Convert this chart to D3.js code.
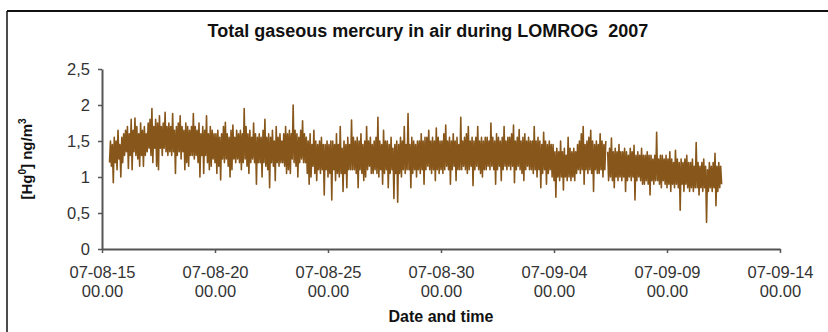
<!DOCTYPE html>
<html><head><meta charset="utf-8">
<script src="https://cdn.jsdelivr.net/npm/d3@7"></script>
<style>
body{margin:0;background:#fff}
svg{display:block}
text{font-family:"Liberation Sans",Arial,Helvetica,sans-serif}
</style>
</head><body>
<svg id="chart" width="828" height="332"></svg>
<script>
// ---- data ----
const chartTitle = "Total gaseous mercury in air during LOMROG  2007";
const xTitle = "Date and time";
const yTicks = [0, 0.5, 1, 1.5, 2, 2.5];
const yTickLabels = ["0", "0,5", "1", "1,5", "2", "2,5"];
const xTickDates = ["2007-08-15T00:00", "2007-08-20T00:00", "2007-08-25T00:00", "2007-08-30T00:00", "2007-09-04T00:00", "2007-09-09T00:00", "2007-09-14T00:00"];
const xTickDateLabels = ["07-08-15", "07-08-20", "07-08-25", "07-08-30", "07-09-04", "07-09-09", "07-09-14"];
const xTickTimeLabels = ["00.00", "00.00", "00.00", "00.00", "00.00", "00.00", "00.00"];
const seriesStart = "2007-08-15T08:00";  // first sample
const stepHours = 1;                       // sampling step of the series below
// Total gaseous mercury, ng/m3 (hourly, one row per day, null = gap)
const tgm = [
  1.2,1.5,1.15,1.45,0.92,1.55,1.2,1.5,1.1,1.65,1.25,1.45,1.0,1.55,1.2,1.6,
  1.3,1.65,1.35,1.7,1.12,1.6,1.3,1.8,1.1,1.65,1.35,1.82,1.3,1.7,1.25,1.6,1.15,1.75,1.3,1.65,1.15,1.7,1.3,1.6,
  1.35,1.75,1.4,1.8,1.3,1.95,1.2,1.7,1.4,1.8,1.15,1.75,1.1,1.85,1.4,1.7,1.3,1.75,1.4,1.9,1.35,1.7,1.3,1.75,
  1.35,1.7,1.3,1.88,1.35,1.65,1.05,1.7,1.3,1.75,1.35,1.85,1.25,1.7,1.35,1.65,1.1,1.75,1.2,1.7,1.15,1.65,1.3,1.7,
  1.3,1.88,1.25,1.7,1.3,1.65,1.2,1.75,1.0,1.6,1.3,1.7,1.05,1.65,1.3,1.85,1.2,1.6,1.1,1.7,1.15,1.65,1.25,1.6,
  1.2,1.6,1.05,1.65,1.15,1.55,0.96,1.6,1.25,1.7,1.2,1.76,1.25,1.6,1.15,1.55,1.0,1.65,1.1,1.72,1.25,1.55,1.2,1.65,
  1.25,1.6,1.2,1.65,1.1,1.6,1.2,1.95,1.25,1.7,1.15,1.6,1.05,1.65,1.2,1.55,1.25,1.75,1.2,1.6,0.9,1.55,1.2,1.6,
  1.2,1.55,1.0,1.65,1.2,1.8,1.15,1.55,1.1,1.6,0.85,1.55,1.2,1.65,1.15,1.5,0.95,1.7,1.2,1.55,1.15,1.6,1.2,1.5,
  1.2,1.6,1.15,1.7,1.05,1.6,1.1,1.65,1.05,1.6,1.25,2.0,1.2,1.65,1.15,1.6,1.0,1.55,1.2,1.65,1.25,1.78,1.2,1.6,
  1.2,1.55,1.05,1.5,0.9,1.6,1.0,1.45,1.15,1.65,1.05,1.5,0.95,1.45,1.1,1.5,1.05,1.55,1.1,1.45,0.75,1.45,1.1,1.5,
  1.0,1.45,1.05,1.5,0.68,1.5,1.1,1.45,0.95,1.6,1.05,1.45,1.0,1.7,1.05,1.4,0.8,1.5,1.05,1.45,0.85,1.55,1.1,1.45,
  1.1,1.79,1.1,1.55,1.1,1.5,1.05,1.55,0.85,1.5,1.1,1.6,1.05,1.45,0.95,1.5,1.0,1.7,1.1,1.5,1.15,1.55,1.05,1.45,
  1.05,1.5,1.1,1.55,1.05,1.83,1.0,1.5,1.1,1.45,0.9,1.65,1.05,1.5,1.1,1.5,0.85,1.45,1.05,1.55,1.1,1.4,0.7,1.45,
  1.05,1.5,0.65,1.45,1.05,1.55,1.0,1.5,1.1,1.7,1.05,1.45,1.1,1.88,1.1,1.45,0.85,1.55,1.05,1.5,1.1,1.45,1.0,1.5,
  1.1,1.5,1.05,1.6,1.1,1.5,0.9,1.55,1.1,1.55,1.15,1.65,1.1,1.5,1.05,1.55,1.1,1.5,0.95,1.68,1.1,1.55,1.05,1.5,
  1.1,1.5,1.05,1.6,1.1,1.72,1.15,1.5,1.1,1.55,0.9,1.5,1.1,1.6,1.15,1.5,0.95,1.55,1.1,1.45,1.1,1.83,1.1,1.5,
  1.15,1.55,1.1,1.6,1.05,1.7,1.1,1.5,1.15,1.55,0.88,1.5,1.1,1.55,1.15,1.7,1.1,1.5,1.05,1.55,1.0,1.5,1.1,1.55,
  1.1,1.55,1.15,1.5,1.1,1.75,1.15,1.55,1.1,1.5,0.9,1.6,1.1,1.55,1.15,1.5,0.95,1.55,1.1,1.7,1.15,1.5,1.1,1.55,
  1.15,1.55,1.1,1.6,1.15,1.72,0.92,1.5,1.1,1.55,1.15,1.66,1.1,1.5,1.05,1.55,0.95,1.6,1.1,1.5,1.15,1.55,1.1,1.5,
  1.1,1.5,1.05,1.7,1.1,1.5,1.0,1.55,1.1,1.5,0.85,1.45,1.05,1.62,1.1,1.5,0.9,1.45,1.05,1.5,1.1,1.45,1.0,1.45,
  0.95,1.35,0.72,1.4,1.0,1.35,0.95,1.5,1.0,1.35,0.82,1.4,1.0,1.3,0.95,1.55,1.0,1.4,0.95,1.35,1.0,1.4,0.95,1.35,
  1.05,1.45,1.1,1.5,1.05,1.6,1.1,1.7,0.9,1.45,1.1,1.5,1.05,1.55,1.1,1.65,1.05,1.5,0.8,1.45,1.1,1.5,1.05,1.45,
  1.05,1.6,1.1,1.5,1.0,1.45,1.1,1.5,null,1.35,0.95,1.4,1.0,1.54,0.95,1.35,0.85,1.4,1.0,1.35,0.95,1.45,1.0,1.35,
  0.95,1.35,1.0,1.4,0.8,1.35,0.95,1.3,1.0,1.4,0.95,1.35,1.0,1.44,0.68,1.3,0.95,1.35,1.0,1.3,0.95,1.4,0.9,1.3,
  0.9,1.3,0.95,1.35,0.9,1.3,0.75,1.3,0.95,1.25,0.9,1.3,0.95,1.62,0.95,1.25,0.9,1.3,0.85,1.3,0.95,1.25,0.9,1.3,
  0.85,1.25,0.9,1.35,0.8,1.25,0.9,1.2,0.85,1.37,0.9,1.25,0.85,1.2,0.54,1.25,0.9,1.2,0.8,1.25,0.9,1.3,0.85,1.2,
  0.8,1.2,0.85,1.25,0.8,1.15,0.85,1.48,0.85,1.2,0.75,1.15,0.85,1.2,0.8,1.25,0.85,1.15,0.37,1.1,0.8,1.2,0.85,1.15,
  0.8,1.2,0.85,1.33,0.6,1.15,0.8,1.2,0.85,1.15,0.9
];

// ---- chart ----
const parse = d3.timeParse("%Y-%m-%dT%H:%M");
const t0 = parse(seriesStart);
const points = tgm.map((v, i) => ({t: d3.timeHour.offset(t0, i * stepHours), v}));
const tickDates = xTickDates.map(parse);

const svg = d3.select("#chart");
svg.append("rect").attr("width", 828).attr("height", 332).attr("fill", "#fff");

// outer frame (top and left edges visible)
svg.append("line").attr("x1", 7).attr("x2", 828).attr("y1", 11).attr("y2", 11)
  .attr("stroke", "#111").attr("stroke-width", 2);
svg.append("line").attr("x1", 7).attr("x2", 7).attr("y1", 11).attr("y2", 332)
  .attr("stroke", "#111").attr("stroke-width", 1.5);

const x = d3.scaleTime().domain([tickDates[0], tickDates[tickDates.length - 1]]).range([102, 780]);
const y = d3.scaleLinear().domain([0, 2.5]).range([249, 69]);

// series
const line = d3.line().defined(d => d.v != null).x(d => x(d.t)).y(d => y(d.v));
svg.append("path").datum(points)
  .attr("d", line)
  .attr("fill", "none")
  .attr("stroke", "#87561a")
  .attr("stroke-width", 1.6)
  .attr("stroke-linejoin", "round");

const axisColor = "#555";
// y axis
const gy = svg.append("g").attr("transform", "translate(102,0)")
  .call(d3.axisLeft(y).tickValues(yTicks).tickFormat((d, i) => yTickLabels[i])
    .tickSize(4).tickSizeOuter(0).tickPadding(8));
gy.select(".domain").attr("stroke", axisColor).attr("stroke-width", 2);
gy.selectAll(".tick line").attr("stroke", axisColor).attr("stroke-width", 1.5);
gy.selectAll(".tick text").attr("fill", "#333").style("font-size", "16.5px").attr("dy", "0.36em");

// x axis
const gx = svg.append("g").attr("transform", "translate(0,249)")
  .call(d3.axisBottom(x).tickValues(tickDates).tickFormat(() => "").tickSize(4).tickSizeOuter(0));
gx.select(".domain").attr("stroke", axisColor).attr("stroke-width", 2);
gx.selectAll(".tick line").attr("stroke", axisColor).attr("stroke-width", 1.5);
gx.selectAll(".tick text").remove();
gx.selectAll(".tick").each(function(d, i) {
  const g = d3.select(this);
  g.append("text").attr("y", 29).attr("text-anchor", "middle").attr("fill", "#333")
    .style("font-size", "16.5px").text(xTickDateLabels[i]);
  g.append("text").attr("y", 48).attr("text-anchor", "middle").attr("fill", "#333")
    .style("font-size", "16.5px").text(xTickTimeLabels[i]);
});

// titles
svg.append("text").attr("x", 428).attr("y", 37).attr("text-anchor", "middle")
  .style("font-size", "18px").style("font-weight", "bold").style("white-space", "pre")
  .attr("fill", "#111").text(chartTitle);
svg.append("text").attr("x", 441).attr("y", 322).attr("text-anchor", "middle")
  .style("font-size", "16px").style("font-weight", "bold").attr("fill", "#111").text(xTitle);

const yl = svg.append("text").attr("transform", "translate(32,159) rotate(-90)")
  .attr("text-anchor", "middle").style("font-size", "15px").style("font-weight", "bold").attr("fill", "#111");
yl.append("tspan").text("[Hg");
yl.append("tspan").attr("dy", -6).style("font-size", "10px").text("0");
yl.append("tspan").attr("dy", 6).text("] ng/m");
yl.append("tspan").attr("dy", -6).style("font-size", "10px").text("3");
</script>
</body></html>
